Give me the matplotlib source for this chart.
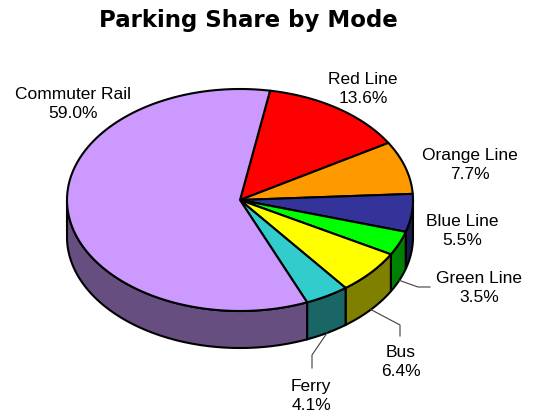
import numpy as np
import matplotlib.pyplot as plt
from matplotlib.patches import Polygon

plt.rcParams['font.family'] = ['Liberation Sans', 'DejaVu Sans']

# Slices, clockwise from the top of the pie
modes  = ['Red Line', 'Orange Line', 'Blue Line', 'Green Line', 'Bus', 'Ferry', 'Commuter Rail']
shares = [13.6, 7.7, 5.5, 3.5, 6.4, 4.1, 59.0]
tops   = ['#FF0000', '#FF9900', '#333399', '#00FF00', '#FFFF00', '#33CCCC', '#CC99FF']
sides  = ['#800000', '#804C00', '#1A1A4D', '#008000', '#808000', '#1A6666', '#664F80']

# Pie geometry in pixel units
cx, cy = 240.0, 200.0
rx, ry = 173.0, 111.0
depth  = 37.0
start  = 10.0   # degrees clockwise from 12 o'clock

# label centre, and leader path (elbow points) if any
labels = {
    'Red Line':      ((363, 89), None),
    'Orange Line':   ((470, 165), None),
    'Blue Line':     ((462, 231), None),
    'Green Line':    ((479, 288), [(418, 287), (430, 287)]),
    'Bus':           ((401, 362), [(400, 325), (400, 336)]),
    'Ferry':         ((311, 396), [(312, 355), (312, 368)]),
    'Commuter Rail': ((73, 104), None),
}


def rim(a0, a1, dy=0.0, n=120):
    t = np.radians(np.linspace(a0, a1, n))
    return np.column_stack([cx + rx * np.sin(t), cy + dy - ry * np.cos(t)])


fig = plt.figure(figsize=(5.34, 4.19), dpi=100)
ax = fig.add_axes([0, 0, 1, 1])
ax.set_xlim(0, 534)
ax.set_ylim(419, 0)
ax.axis('off')

total = sum(shares)
edges = start + np.concatenate([[0], np.cumsum(shares)]) / total * 360

# side walls (only the front half, 90..270 deg, is visible)
for i in range(len(modes)):
    a0, a1 = edges[i], edges[i + 1]
    for off in (0, 360):
        lo = max(a0, 90 + off)
        hi = min(a1, 270 + off)
        if hi <= lo:
            continue
        pts = np.vstack([rim(lo, hi), rim(hi, lo, depth)])
        ax.add_patch(Polygon(pts, closed=True, fc=sides[i], ec='black', lw=1.5, zorder=1))

# top faces
for i in range(len(modes)):
    pts = np.vstack([[cx, cy], rim(edges[i], edges[i + 1])])
    ax.add_patch(Polygon(pts, closed=True, fc=tops[i], ec='black', lw=1.5,
                         joinstyle='round', zorder=2))

# labels and leader lines
for i, m in enumerate(modes):
    (lx, ly), path = labels[m]
    ax.text(lx, ly, f'{m}\n{shares[i]:.1f}%', ha='center', va='center',
            fontsize=12.5, linespacing=1.35, zorder=4)
    if path:
        mid = np.radians((edges[i] + edges[i + 1]) / 2)
        ax_pt = (cx + rx * np.sin(mid), cy + depth - ry * np.cos(mid))
        xs = [ax_pt[0]] + [p[0] for p in path]
        ys = [ax_pt[1]] + [p[1] for p in path]
        ax.plot(xs, ys, color='#404040', lw=0.8, zorder=3)

ax.text(248.5, 27, 'Parking Share by Mode', ha='center', va='baseline',
        fontsize=16.5, fontweight='bold', family='DejaVu Sans')

fig.savefig('out.png', dpi=100)
